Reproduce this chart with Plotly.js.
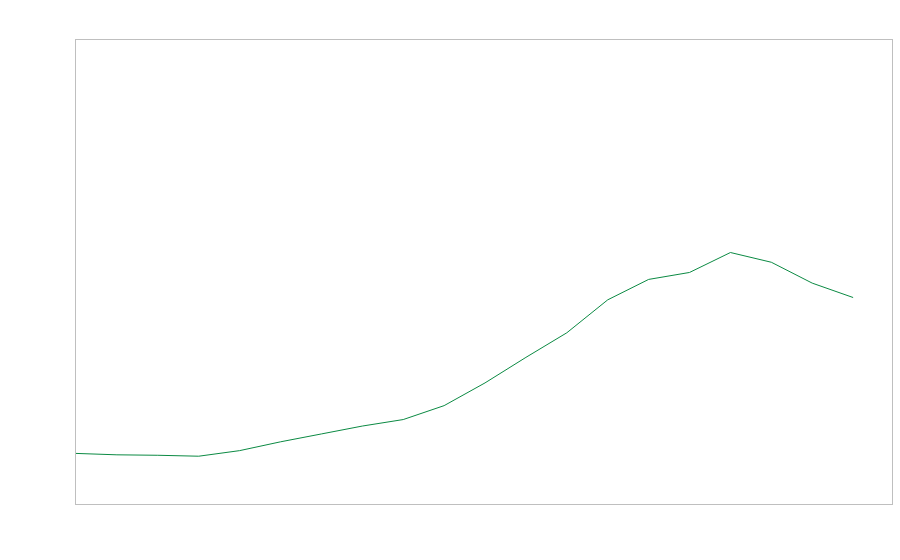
<!DOCTYPE html>
<html><head><meta charset="utf-8">
<script src="https://cdn.plot.ly/plotly-3.0.1.min.js"></script>
<style>html,body{margin:0;padding:0;background:#fff}#chart{width:900px;height:560px}</style>
</head><body><div id="chart"></div>
<script>
const xValues = [0,1,2,3,4,5,6,7,8,9,10,11,12,13,14,15,16,17,18,19];
const yValues = [10.9,10.6,10.5,10.3,11.5,13.4,15.1,16.8,18.2,21.2,26.1,31.6,36.9,44.0,48.4,49.9,54.2,52.1,47.6,44.5];

const axisBase = {showline:true, mirror:true, linecolor:'#bfbfbf', linewidth:1, showgrid:false, zeroline:false, showticklabels:false, ticks:''};
Plotly.newPlot('chart', [{
  x: xValues, y: yValues, type:'scatter', mode:'lines',
  line:{color:'#0b8a43', width:1}, hoverinfo:'none'
}], {
  width:900, height:560,
  margin:{l:76, r:8, t:40, b:56},
  paper_bgcolor:'#fff', plot_bgcolor:'#fff',
  showlegend:false,
  xaxis: Object.assign({range:[0,19.95]}, axisBase),
  yaxis: Object.assign({range:[0,100]}, axisBase)
}, {displayModeBar:false, staticPlot:true});
</script></body></html>
